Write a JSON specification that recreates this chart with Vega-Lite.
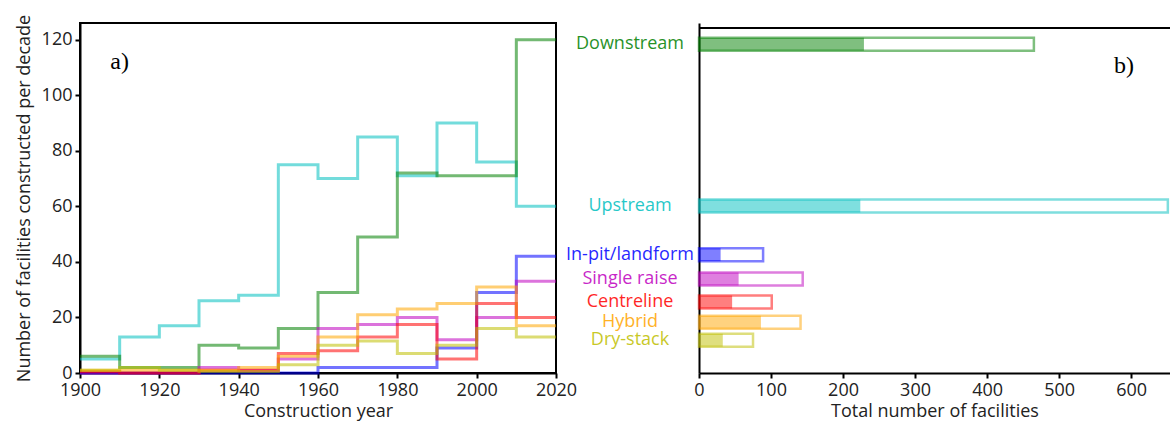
{
  "$schema": "https://vega.github.io/schema/vega-lite/v6.json",
  "background": "white",
  "padding": {"left": 14, "top": 13, "right": 0, "bottom": 0},
  "bounds": "flush",
  "spacing": 143,
  "config": {
    "font": "Open Sans",
    "view": {"stroke": "black", "strokeWidth": 2},
    "axis": {
      "grid": false,
      "domainColor": "black",
      "domainWidth": 2,
      "tickColor": "black",
      "tickWidth": 2,
      "tickSize": 5,
      "labelColor": "#222",
      "titleColor": "#222",
      "labelFontSize": 18,
      "titleFontSize": 18,
      "titleFontWeight": "normal",
      "labelPadding": 3,
      "labelFlush": false
    }
  },
  "datasets": {
    "decades": [
      {"type": "Upstream", "year": 1900, "n": 5},
      {"type": "Upstream", "year": 1910, "n": 13},
      {"type": "Upstream", "year": 1920, "n": 17},
      {"type": "Upstream", "year": 1930, "n": 26},
      {"type": "Upstream", "year": 1940, "n": 28},
      {"type": "Upstream", "year": 1950, "n": 75},
      {"type": "Upstream", "year": 1960, "n": 70},
      {"type": "Upstream", "year": 1970, "n": 85},
      {"type": "Upstream", "year": 1980, "n": 71},
      {"type": "Upstream", "year": 1990, "n": 90},
      {"type": "Upstream", "year": 2000, "n": 76},
      {"type": "Upstream", "year": 2010, "n": 60},
      {"type": "Upstream", "year": 2020, "n": 60},
      {"type": "Downstream", "year": 1900, "n": 6},
      {"type": "Downstream", "year": 1910, "n": 2},
      {"type": "Downstream", "year": 1920, "n": 2},
      {"type": "Downstream", "year": 1930, "n": 10},
      {"type": "Downstream", "year": 1940, "n": 9},
      {"type": "Downstream", "year": 1950, "n": 16},
      {"type": "Downstream", "year": 1960, "n": 29},
      {"type": "Downstream", "year": 1970, "n": 49},
      {"type": "Downstream", "year": 1980, "n": 72},
      {"type": "Downstream", "year": 1990, "n": 71},
      {"type": "Downstream", "year": 2000, "n": 71},
      {"type": "Downstream", "year": 2010, "n": 120},
      {"type": "Downstream", "year": 2020, "n": 120},
      {"type": "In-pit/landform", "year": 1900, "n": 0},
      {"type": "In-pit/landform", "year": 1910, "n": 0},
      {"type": "In-pit/landform", "year": 1920, "n": 0},
      {"type": "In-pit/landform", "year": 1930, "n": 0},
      {"type": "In-pit/landform", "year": 1940, "n": 0},
      {"type": "In-pit/landform", "year": 1950, "n": 0},
      {"type": "In-pit/landform", "year": 1960, "n": 2},
      {"type": "In-pit/landform", "year": 1970, "n": 2},
      {"type": "In-pit/landform", "year": 1980, "n": 2},
      {"type": "In-pit/landform", "year": 1990, "n": 9},
      {"type": "In-pit/landform", "year": 2000, "n": 29},
      {"type": "In-pit/landform", "year": 2010, "n": 42},
      {"type": "In-pit/landform", "year": 2020, "n": 42},
      {"type": "Single raise", "year": 1900, "n": 0},
      {"type": "Single raise", "year": 1910, "n": 0},
      {"type": "Single raise", "year": 1920, "n": 0},
      {"type": "Single raise", "year": 1930, "n": 2},
      {"type": "Single raise", "year": 1940, "n": 1},
      {"type": "Single raise", "year": 1950, "n": 5},
      {"type": "Single raise", "year": 1960, "n": 16},
      {"type": "Single raise", "year": 1970, "n": 17.5},
      {"type": "Single raise", "year": 1980, "n": 20},
      {"type": "Single raise", "year": 1990, "n": 12},
      {"type": "Single raise", "year": 2000, "n": 20},
      {"type": "Single raise", "year": 2010, "n": 33},
      {"type": "Single raise", "year": 2020, "n": 33},
      {"type": "Centreline", "year": 1900, "n": 0.5},
      {"type": "Centreline", "year": 1910, "n": 0},
      {"type": "Centreline", "year": 1920, "n": 0},
      {"type": "Centreline", "year": 1930, "n": 1},
      {"type": "Centreline", "year": 1940, "n": 1},
      {"type": "Centreline", "year": 1950, "n": 7},
      {"type": "Centreline", "year": 1960, "n": 8},
      {"type": "Centreline", "year": 1970, "n": 13},
      {"type": "Centreline", "year": 1980, "n": 17.5},
      {"type": "Centreline", "year": 1990, "n": 5},
      {"type": "Centreline", "year": 2000, "n": 25},
      {"type": "Centreline", "year": 2010, "n": 20},
      {"type": "Centreline", "year": 2020, "n": 20},
      {"type": "Hybrid", "year": 1900, "n": 1},
      {"type": "Hybrid", "year": 1910, "n": 1},
      {"type": "Hybrid", "year": 1920, "n": 1},
      {"type": "Hybrid", "year": 1930, "n": 1},
      {"type": "Hybrid", "year": 1940, "n": 2},
      {"type": "Hybrid", "year": 1950, "n": 6},
      {"type": "Hybrid", "year": 1960, "n": 13},
      {"type": "Hybrid", "year": 1970, "n": 21},
      {"type": "Hybrid", "year": 1980, "n": 23},
      {"type": "Hybrid", "year": 1990, "n": 25},
      {"type": "Hybrid", "year": 2000, "n": 31},
      {"type": "Hybrid", "year": 2010, "n": 17},
      {"type": "Hybrid", "year": 2020, "n": 17},
      {"type": "Dry-stack", "year": 1900, "n": 1},
      {"type": "Dry-stack", "year": 1910, "n": 2},
      {"type": "Dry-stack", "year": 1920, "n": 1},
      {"type": "Dry-stack", "year": 1930, "n": 0.5},
      {"type": "Dry-stack", "year": 1940, "n": 0.5},
      {"type": "Dry-stack", "year": 1950, "n": 3},
      {"type": "Dry-stack", "year": 1960, "n": 10},
      {"type": "Dry-stack", "year": 1970, "n": 11.5},
      {"type": "Dry-stack", "year": 1980, "n": 7},
      {"type": "Dry-stack", "year": 1990, "n": 10},
      {"type": "Dry-stack", "year": 2000, "n": 16},
      {"type": "Dry-stack", "year": 2010, "n": 13},
      {"type": "Dry-stack", "year": 2020, "n": 13}
    ],
    "totals": [
      {"type": "Downstream", "pos": 120, "part": 229, "total": 465},
      {"type": "Upstream", "pos": 60, "part": 224, "total": 651},
      {"type": "In-pit/landform", "pos": 42, "part": 30, "total": 89},
      {"type": "Single raise", "pos": 33, "part": 55, "total": 144},
      {"type": "Centreline", "pos": 24.5, "part": 46, "total": 101},
      {"type": "Hybrid", "pos": 17, "part": 86, "total": 141},
      {"type": "Dry-stack", "pos": 10.3, "part": 33, "total": 75}
    ]
  },
  "hconcat": [
    {
      "width": 476,
      "height": 350,
      "layer": [
        {
          "data": {"name": "decades"},
          "mark": {"type": "line", "interpolate": "step-after", "strokeWidth": 3, "opacity": 0.55},
          "encoding": {
            "x": {
              "field": "year", "type": "quantitative",
              "scale": {"domain": [1900, 2020], "nice": false, "zero": false},
              "axis": {"values": [1900, 1920, 1940, 1960, 1980, 2000, 2020], "format": "d", "title": "Construction year", "titlePadding": 3}
            },
            "y": {
              "field": "n", "type": "quantitative",
              "scale": {"domain": [0, 126], "nice": false},
              "axis": {"values": [0, 20, 40, 60, 80, 100, 120], "title": "Number of facilities constructed per decade", "titlePadding": 8}
            },
            "color": {
              "field": "type", "type": "nominal", "legend": null,
              "scale": {
                "domain": ["Downstream", "Upstream", "In-pit/landform", "Single raise", "Centreline", "Hybrid", "Dry-stack"],
                "range": ["#008000", "#00bfbf", "#0000ff", "#bf00bf", "#ff0000", "#ffa500", "#bfbf00"]
              }
            }
          }
        },
        {
          "data": {"values": [{"panel": "a)"}]},
          "mark": {"type": "text", "font": "Liberation Serif", "fontSize": 24, "align": "center", "baseline": "middle", "color": "black"},
          "encoding": {
            "x": {"datum": 1910, "type": "quantitative"},
            "y": {"datum": 112, "type": "quantitative"},
            "text": {"field": "panel"}
          }
        }
      ]
    },
    {
      "width": 471,
      "height": 350,
      "view": {"stroke": null},
      "layer": [
        {
          "data": {"name": "totals"},
          "mark": {"type": "bar", "orient": "horizontal", "size": 13, "opacity": 0.5},
          "encoding": {
            "x": {
              "field": "part", "type": "quantitative", "stack": null,
              "scale": {"domain": [0, 654], "nice": false},
              "axis": {"values": [0, 100, 200, 300, 400, 500, 600], "title": "Total number of facilities", "titlePadding": 3}
            },
            "y": {
              "field": "pos", "type": "quantitative",
              "scale": {"domain": [0, 126], "nice": false},
              "axis": {"title": null, "labels": false, "ticks": false, "domain": true}
            },
            "color": {
              "field": "type", "type": "nominal", "legend": null,
              "scale": {
                "domain": ["Downstream", "Upstream", "In-pit/landform", "Single raise", "Centreline", "Hybrid", "Dry-stack"],
                "range": ["#008000", "#00bfbf", "#0000ff", "#bf00bf", "#ff0000", "#ffa500", "#bfbf00"]
              }
            }
          }
        },
        {
          "data": {"name": "totals"},
          "mark": {"type": "bar", "orient": "horizontal", "size": 13, "filled": false, "strokeWidth": 2.5, "opacity": 0.5},
          "encoding": {
            "x": {"field": "total", "type": "quantitative", "stack": null},
            "y": {"field": "pos", "type": "quantitative"},
            "color": {"field": "type", "type": "nominal", "legend": null}
          }
        },
        {
          "data": {"name": "totals"},
          "mark": {"type": "text", "align": "center", "baseline": "middle", "dx": -69, "fontSize": 18, "opacity": 0.85},
          "encoding": {
            "x": {"datum": 0, "type": "quantitative"},
            "y": {"field": "pos", "type": "quantitative"},
            "text": {"field": "type"},
            "color": {"field": "type", "type": "nominal", "legend": null}
          }
        },
        {
          "data": {"values": [{"edge": 126}]},
          "mark": {"type": "rule", "color": "black", "strokeWidth": 2},
          "encoding": {"y": {"field": "edge", "type": "quantitative"}}
        },
        {
          "data": {"values": [{"panel": "b)"}]},
          "mark": {"type": "text", "font": "Liberation Serif", "fontSize": 24, "align": "center", "baseline": "middle", "color": "black"},
          "encoding": {
            "x": {"datum": 590, "type": "quantitative"},
            "y": {"datum": 112, "type": "quantitative"},
            "text": {"field": "panel"}
          }
        }
      ]
    }
  ]
}
